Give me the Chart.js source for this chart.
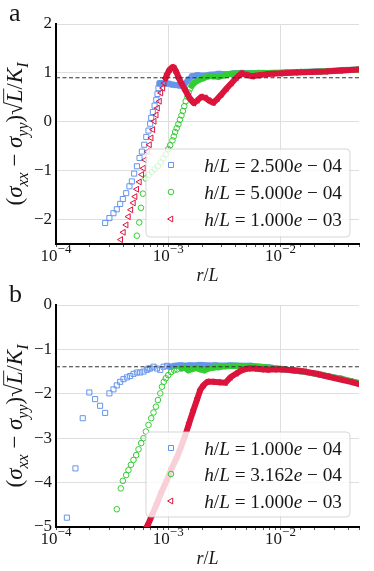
<!DOCTYPE html>
<html>
<head>
<meta charset="utf-8">
<script src="https://cdn.jsdelivr.net/npm/chart.js@4/dist/chart.umd.min.js"></script>
<style>
  body { margin: 0; background: #fff; }
  .panel { position: relative; width: 374px; }
</style>
</head>
<body>
<div class="panel" style="height:285px"><canvas id="chartA"></canvas></div>
<div class="panel" style="height:286px"><canvas id="chartB"></canvas></div>
<script>
const serif = '"Liberation Serif", "DejaVu Serif", serif';
const ink = '#161616';
const blue = '#6495ED', green = '#32CD32', red = '#DC143C';

// x axis (r/L), log scale
const xMin = 1e-4, xMax = 5e-2;
const xMajorTicks = [1e-4, 1e-3, 1e-2];
const xTickExps = ['−4', '−3', '−2'];

// panel a: h/L = 2.5e-4 (blue), 5e-4 (green), 1e-3 (red)
const aBlueR = [2.74e-4, 2.99e-4, 3.25e-4, 3.48e-4, 3.73e-4, 3.94e-4, 4.22e-4, 4.51e-4, 4.74e-4, 4.97e-4, 5.26e-4, 5.55e-4,
  5.82e-4, 6.11e-4, 6.37e-4, 6.67e-4, 6.90e-4, 7.05e-4, 7.29e-4, 7.55e-4, 7.82e-4, 8.02e-4, 8.18e-4, 8.36e-4,
  8.49e-4, 9.21e-4, 1.00e-3, 1.09e-3, 1.18e-3, 1.28e-3, 1.39e-3, 1.51e-3, 1.64e-3, 1.82e-3, 2.05e-3, 2.37e-3,
  2.80e-3, 3.30e-3, 3.88e-3, 4.58e-3, 5.62e-3, 6.91e-3, 8.84e-3, 1.18e-2, 1.57e-2, 2.10e-2, 2.80e-2, 3.81e-2, 5.0e-2];
const aBlueY = [-2.07, -1.97, -1.87, -1.79, -1.68, -1.58, -1.46, -1.32, -1.22, -1.06, -0.91, -0.74,
  -0.61, -0.47, -0.31, -0.18, -0.04, 0.08, 0.20, 0.33, 0.45, 0.57, 0.69, 0.78,
  0.79, 0.79, 0.78, 0.76, 0.75, 0.74, 0.76, 0.86, 0.93, 0.95, 0.94, 0.96,
  0.98, 0.97, 0.99, 1.00, 0.99, 1.00, 1.00, 1.01, 1.02, 1.03, 1.04, 1.06, 1.07];

const aGreenR = [5.25e-4, 5.51e-4, 5.71e-4, 5.94e-4, 6.30e-4, 6.70e-4, 7.12e-4, 7.57e-4, 8.06e-4, 8.57e-4, 9.02e-4, 9.50e-4,
  1.00e-3, 1.04e-3, 1.09e-3, 1.12e-3, 1.15e-3, 1.19e-3, 1.23e-3, 1.27e-3, 1.31e-3, 1.35e-3, 1.39e-3, 1.43e-3,
  1.48e-3, 1.52e-3, 1.57e-3, 1.62e-3,
  1.71e-3, 1.85e-3, 2.05e-3, 2.28e-3, 2.52e-3, 2.80e-3, 3.16e-3, 3.58e-3, 4.22e-3, 5.18e-3, 6.36e-3, 8.14e-3,
  1.11e-2, 1.51e-2, 2.28e-2, 3.43e-2, 5.0e-2];
const aGreenY = [-2.33, -2.06, -1.76, -1.47, -1.16, -1.09, -1.03, -0.97, -0.91, -0.83, -0.75, -0.67,
  -0.56, -0.48, -0.38, -0.30, -0.21, -0.13, -0.05, 0.04, 0.13, 0.22, 0.32, 0.42,
  0.51, 0.60, 0.68, 0.74,
  0.80, 0.85, 0.89, 0.93, 0.93, 0.92, 0.95, 0.98, 0.99, 0.99, 1.00, 1.00,
  1.01, 1.02, 1.03, 1.05, 1.07];

const aRedR = [3.78e-4, 3.99e-4, 4.22e-4, 4.42e-4, 4.65e-4, 4.90e-4, 5.07e-4, 5.25e-4, 5.54e-4, 5.82e-4, 6.02e-4, 6.23e-4,
  6.53e-4, 6.81e-4, 7.05e-4, 7.30e-4, 7.50e-4, 7.82e-4, 8.03e-4, 8.36e-4, 8.61e-4, 8.97e-4, 9.21e-4, 9.46e-4,
  9.80e-4, 1.03e-3, 1.09e-3, 1.13e-3, 1.19e-3, 1.25e-3, 1.33e-3, 1.42e-3, 1.51e-3, 1.60e-3, 1.69e-3, 1.82e-3,
  1.97e-3, 2.14e-3, 2.32e-3, 2.52e-3, 2.74e-3, 2.97e-3, 3.30e-3, 3.65e-3, 4.05e-3, 4.48e-3, 4.97e-3, 5.62e-3,
  6.36e-3, 7.35e-3, 8.49e-3, 1.00e-2, 1.36e-2, 1.85e-2, 2.52e-2, 3.43e-2, 5.0e-2];
const aRedY = [-2.41, -2.26, -2.11, -1.94, -1.80, -1.66, -1.53, -1.38, -1.23, -1.08, -0.95, -0.78,
  -0.61, -0.47, -0.33, -0.16, 0.01, 0.14, 0.28, 0.42, 0.59, 0.69, 0.79, 0.89,
  0.98, 1.07, 1.12, 1.10, 1.00, 0.88, 0.76, 0.64, 0.53, 0.44, 0.38, 0.44,
  0.51, 0.49, 0.43, 0.39, 0.47, 0.56, 0.68, 0.79, 0.90, 0.99, 0.96, 0.93,
  0.95, 0.97, 0.98, 0.99, 1.01, 1.02, 1.03, 1.05, 1.07];

// panel b: h/L = 1e-4 (blue), 3.162e-4 (green), 1e-3 (red)
const bBlueR = [1.25e-4, 1.49e-4, 1.73e-4, 1.98e-4, 2.23e-4, 2.47e-4, 2.74e-4, 2.99e-4, 3.25e-4, 3.48e-4, 3.73e-4, 3.99e-4,
  4.28e-4, 4.58e-4, 4.90e-4, 5.25e-4, 5.62e-4, 6.02e-4, 6.45e-4, 6.67e-4, 6.91e-4, 7.39e-4, 7.93e-4, 8.49e-4,
  9.08e-4, 9.74e-4, 1.04e-3,
  1.15e-3, 1.28e-3, 1.57e-3, 1.93e-3, 2.63e-3, 3.58e-3, 5.40e-3, 8.14e-3, 1.00e-2, 1.51e-2, 2.28e-2, 3.43e-2, 5.0e-2];
const bBlueY = [-4.79, -3.68, -2.55, -1.97, -2.12, -2.27, -2.43, -1.99, -1.90, -1.81, -1.73, -1.67,
  -1.63, -1.60, -1.55, -1.52, -1.52, -1.50, -1.46, -1.43, -1.43, -1.39, -1.43, -1.46,
  -1.39, -1.37, -1.39,
  -1.37, -1.36, -1.36, -1.35, -1.36, -1.36, -1.37, -1.41, -1.44, -1.49, -1.57, -1.66, -1.76];

const bGreenR = [3.48e-4, 3.78e-4, 3.94e-4, 4.22e-4, 4.42e-4, 4.65e-4, 4.90e-4, 5.18e-4, 5.43e-4, 5.74e-4, 6.02e-4, 6.32e-4,
  6.67e-4, 7.05e-4, 7.39e-4, 7.77e-4, 8.09e-4, 8.49e-4, 8.79e-4, 9.12e-4, 9.50e-4, 1.00e-3, 1.06e-3, 1.13e-3,
  1.20e-3, 1.31e-3,
  1.39e-3, 1.51e-3, 1.64e-3, 1.78e-3, 1.93e-3, 2.10e-3, 2.28e-3, 2.52e-3, 2.80e-3, 3.23e-3, 3.96e-3, 5.40e-3,
  7.35e-3, 1.00e-2, 1.51e-2, 2.28e-2, 3.43e-2, 5.0e-2];
const bGreenY = [-4.60, -4.13, -3.96, -3.83, -3.72, -3.60, -3.49, -3.38, -3.25, -3.11, -3.00, -2.85,
  -2.70, -2.55, -2.42, -2.29, -2.14, -1.99, -1.84, -1.73, -1.65, -1.58, -1.51, -1.47,
  -1.45, -1.43,
  -1.41, -1.47, -1.44, -1.42, -1.45, -1.47, -1.43, -1.41, -1.40, -1.38, -1.37, -1.38,
  -1.40, -1.44, -1.49, -1.57, -1.66, -1.76];

const bRedR = [6.45e-4, 6.67e-4, 7.20e-4, 7.93e-4, 8.75e-4, 9.74e-4, 1.07e-3, 1.20e-3, 1.31e-3, 1.42e-3, 1.54e-3, 1.68e-3,
  1.82e-3, 1.93e-3, 2.07e-3, 2.23e-3, 2.47e-3, 2.80e-3, 3.23e-3, 3.58e-3, 4.05e-3, 4.58e-3, 5.18e-3, 5.86e-3,
  6.77e-3, 7.65e-3, 8.84e-3, 1.00e-2, 1.28e-2, 1.64e-2, 2.10e-2, 2.63e-2, 3.43e-2, 4.22e-2, 5.0e-2];
const bRedY = [-4.99, -4.92, -4.72, -4.47, -4.20, -3.94, -3.68, -3.42, -3.17, -2.93, -2.65, -2.36,
  -2.10, -1.91, -1.80, -1.73, -1.73, -1.74, -1.75, -1.63, -1.54, -1.46, -1.43, -1.43,
  -1.45, -1.46, -1.45, -1.45, -1.47, -1.50, -1.55, -1.61, -1.68, -1.73, -1.78];

const aLabels = ['h/L = 2.500e − 04', 'h/L = 5.000e − 04', 'h/L = 1.000e − 03'];
const bLabels = ['h/L = 1.000e − 04', 'h/L = 3.162e − 04', 'h/L = 1.000e − 03'];
const aRefLevel = 0.9;
const bRefLevel = -1.39;

// --- text helpers (letters italic, like math mode) ---
function textRuns(str, size) {
  const runs = [];
  for (const ch of str) {
    const it = /[A-Za-z]/.test(ch);
    const last = runs[runs.length - 1];
    if (last && last.it === it) last.t += ch;
    else runs.push({ t: ch, it: it, size: size, dy: 0 });
  }
  return runs;
}
function setFont(ctx, r) { ctx.font = (r.it ? 'italic ' : '') + r.size + 'px ' + serif; }
function runsWidth(ctx, runs) {
  let w = 0;
  runs.forEach(r => { setFont(ctx, r); w += ctx.measureText(r.t).width; });
  return w;
}
function fillRuns(ctx, runs, x, y) {
  runs.forEach(r => {
    setFont(ctx, r);
    const w = ctx.measureText(r.t).width;
    ctx.fillText(r.t, x, y + r.dy);
    if (r.over) {
      ctx.save();
      ctx.strokeStyle = ctx.fillStyle;
      ctx.lineWidth = 0.9;
      ctx.beginPath();
      ctx.moveTo(x - 1, y - r.size * 0.8);
      ctx.lineTo(x + w + 1, y - r.size * 0.8);
      ctx.stroke();
      ctx.restore();
    }
    x += w;
  });
}
function yTitleRuns(s) {
  const sub = s * 0.7, d = s * 0.25;
  return [
    { t: '(', it: false, size: s, dy: 0 },
    { t: 'σ', it: true, size: s, dy: 0 },
    { t: 'xx', it: true, size: sub, dy: d },
    { t: ' − ', it: false, size: s, dy: 0 },
    { t: 'σ', it: true, size: s, dy: 0 },
    { t: 'yy', it: true, size: sub, dy: d },
    { t: ')', it: false, size: s, dy: 0 },
    { t: '√', it: false, size: s, dy: 0 },
    { t: 'L', it: true, size: s, dy: 0, over: true },
    { t: '/', it: false, size: s, dy: 0 },
    { t: 'K', it: true, size: s, dy: 0 },
    { t: 'I', it: true, size: sub, dy: d }
  ];
}

function drawMarker(ctx, style, color, x, y) {
  ctx.strokeStyle = color;
  ctx.lineWidth = 1;
  ctx.beginPath();
  if (style === 'rect') {
    ctx.rect(x - 2.5, y - 2.5, 5, 5);
  } else if (style === 'circle') {
    ctx.arc(x, y, 2.8, 0, Math.PI * 2);
  } else {
    const r = 3.4;
    [-90, 30, 150].forEach((a, i) => {
      const rad = a * Math.PI / 180;
      const px = x + Math.sin(rad) * r, py = y - Math.cos(rad) * r;
      if (i === 0) ctx.moveTo(px, py); else ctx.lineTo(px, py);
    });
    ctx.closePath();
  }
  ctx.stroke();
}

// labels, titles and legend box drawn on top of the chart
const decor = {
  id: 'decor',
  afterDatasetsDraw(chart, args, o) {
    const ctx = chart.ctx, b = o.box;
    ctx.save();
    ctx.beginPath();
    ctx.roundRect(b.x, b.y, b.w, b.h, 4);
    ctx.fillStyle = 'rgba(255,255,255,0.8)';
    ctx.fill();
    ctx.strokeStyle = 'rgba(204,204,204,0.8)';
    ctx.lineWidth = 1;
    ctx.stroke();
    ctx.textBaseline = 'alphabetic';
    ctx.textAlign = 'left';
    o.labels.forEach((lab, i) => {
      const y = b.rows[i];
      drawMarker(ctx, o.styles[i], o.colors[i], b.x + 25, y);
      const w17 = runsWidth(ctx, textRuns(lab, 17));
      const fs = 17 * b.textW / w17;
      const runs = textRuns(lab, fs);
      ctx.fillStyle = ink;
      fillRuns(ctx, runs, b.x + b.w - 8 - runsWidth(ctx, runs), y + fs * 0.34);
    });
    ctx.restore();
  },
  afterDraw(chart, args, o) {
    const ctx = chart.ctx, area = chart.chartArea, xs = chart.scales.x;
    ctx.save();
    ctx.fillStyle = ink;
    ctx.textAlign = 'left';
    ctx.textBaseline = 'alphabetic';
    ctx.font = '26px ' + serif;
    ctx.fillText(o.letter, o.letterX, o.letterY);

    xMajorTicks.forEach((v, i) => {
      const px = xs.getPixelForValue(v);
      const runs = [
        { t: '10', it: false, size: 17, dy: 0 },
        { t: xTickExps[i], it: false, size: 13, dy: -7.5 }
      ];
      fillRuns(ctx, runs, px - runsWidth(ctx, runs) / 2, area.bottom + 16.5);
    });

    const xr = textRuns('r/L', 18);
    fillRuns(ctx, xr, (area.left + area.right) / 2 - runsWidth(ctx, xr) / 2, area.bottom + 36.5);

    const s = 17 * 143 / runsWidth(ctx, yTitleRuns(17));
    const yr = yTitleRuns(s);
    ctx.translate(22, (area.top + area.bottom) / 2);
    ctx.rotate(-Math.PI / 2);
    fillRuns(ctx, yr, -runsWidth(ctx, yr) / 2, 0);
    ctx.restore();
  }
};

function series(xs, ys, color, style, radius, bandFrom, order) {
  return {
    data: xs.map((x, i) => ({ x: x, y: ys[i] })),
    showLine: true,
    borderColor: color,
    borderWidth: 6,
    borderJoinStyle: 'round',
    borderCapStyle: 'round',
    segment: { borderColor: c => c.p0DataIndex >= bandFrom ? color : 'rgba(0,0,0,0)' },
    pointStyle: style,
    pointRadius: radius,
    pointRotation: style === 'triangle' ? -90 : 0,
    pointBorderColor: color,
    pointBackgroundColor: 'rgba(0,0,0,0)',
    pointBorderWidth: 1,
    order: order
  };
}
function refLine(level) {
  return {
    data: [{ x: xMin, y: level }, { x: xMax, y: level }],
    showLine: true,
    borderColor: '#333',
    borderWidth: 1.1,
    borderDash: [4, 2.5],
    pointRadius: 0,
    order: 0
  };
}
const isMajor = v => xMajorTicks.some(t => Math.abs(t - v) / t < 1e-6);

function makeChart(id, datasets, yMin, yMax, padTop, xHeight, decorOpts) {
  return new Chart(document.getElementById(id), {
    type: 'scatter',
    data: { datasets: datasets },
    options: {
      responsive: true,
      maintainAspectRatio: false,
      animation: false,
      layout: { padding: { left: 0, right: 15, top: padTop, bottom: 0 } },
      plugins: { legend: { display: false }, tooltip: { enabled: false }, decor: decorOpts },
      scales: {
        x: {
          type: 'logarithmic',
          min: xMin,
          max: xMax,
          afterFit: s => { s.height = xHeight; },
          border: { display: true, color: '#000', width: 2 },
          grid: {
            color: c => (c.tick && isMajor(c.tick.value)) ? '#dedede' : 'rgba(0,0,0,0)',
            tickColor: '#555',
            tickLength: 3,
            lineWidth: 1
          },
          ticks: { display: false, autoSkip: false }
        },
        y: {
          min: yMin,
          max: yMax,
          afterFit: s => { s.width = 56; },
          border: { display: true, color: '#000', width: 2 },
          grid: { color: '#dedede', lineWidth: 1, drawTicks: false },
          ticks: {
            stepSize: 1,
            padding: 4,
            color: ink,
            font: { family: serif, size: 17 },
            callback: v => Number.isInteger(v) ? (v < 0 ? '−' + Math.abs(v) : String(v)) : ''
          }
        }
      }
    },
    plugins: [decor]
  });
}

makeChart('chartA', [
  refLine(aRefLevel),
  series(aRedR, aRedY, red, 'triangle', 3.4, 23, 1),
  series(aGreenR, aGreenY, green, 'circle', 2.8, 27, 2),
  series(aBlueR, aBlueY, blue, 'rect', 3.6, 23, 3)
], -2.5, 2, 24, 41, {
  letter: 'a', letterX: 9, letterY: 21,
  labels: aLabels, styles: ['rect', 'circle', 'triangle'], colors: [blue, green, red],
  box: { x: 146, y: 149, w: 204, h: 88, rows: [165, 192, 219], textW: 138 }
});

makeChart('chartB', [
  refLine(bRefLevel),
  series(bRedR, bRedY, red, 'triangle', 3.4, 0, 1),
  series(bGreenR, bGreenY, green, 'circle', 2.8, 25, 2),
  series(bBlueR, bBlueY, blue, 'rect', 3.6, 26, 3)
], -5, 0, 20, 44, {
  letter: 'b', letterX: 9, letterY: 17,
  labels: bLabels, styles: ['rect', 'circle', 'triangle'], colors: [blue, green, red],
  box: { x: 146, y: 147, w: 204, h: 85, rows: [163, 189, 216], textW: 138 }
});
</script>
</body>
</html>
